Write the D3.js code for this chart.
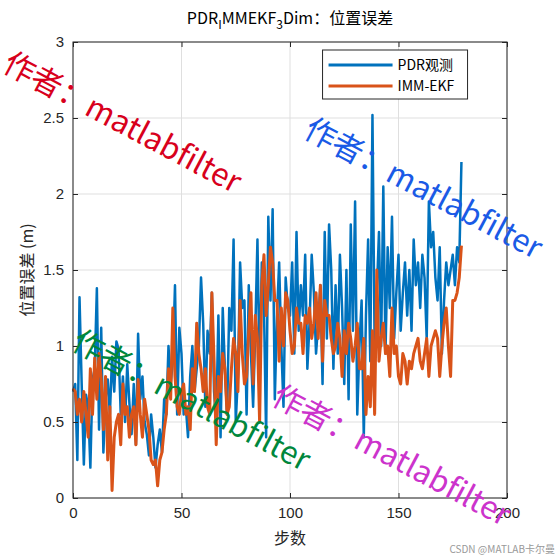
<!DOCTYPE html>
<html><head><meta charset="utf-8">
<script src="https://cdn.jsdelivr.net/npm/d3@7"></script>
<style>body{margin:0;background:#fff;} text{font-family:"Noto Sans CJK SC","Noto Sans",sans-serif;}</style>
</head><body><div id="graph"></div>
<script>
var pdr = [0.70,0.75,0.25,1.32,0.75,0.22,0.68,0.60,0.20,0.78,0.85,1.38,0.45,1.12,0.30,0.65,0.78,0.55,0.93,0.70,
  1.03,0.98,0.55,0.80,0.50,0.88,0.62,0.42,0.75,0.35,1.08,0.65,0.80,0.50,0.42,0.28,0.55,0.40,0.20,0.35,
  0.45,0.30,0.65,0.55,1.00,0.75,0.90,1.40,0.55,1.12,0.95,0.55,0.60,0.40,0.80,1.00,0.70,0.85,1.00,1.45,
  1.15,0.60,1.10,0.95,1.35,0.70,0.50,1.20,0.40,1.25,0.85,0.55,1.25,1.10,1.70,0.50,0.80,1.55,1.25,1.30,
  0.55,1.40,0.95,0.60,1.10,1.70,0.80,1.55,1.25,0.40,1.85,1.30,1.90,0.65,1.20,1.55,1.00,0.60,1.45,1.25,
  1.20,1.55,0.95,1.75,1.10,1.40,1.20,1.60,0.85,1.15,1.60,1.35,0.95,1.15,1.40,0.75,1.75,1.05,1.80,1.50,
  0.85,1.40,0.95,1.60,1.25,0.75,1.50,0.65,1.80,1.10,1.95,0.55,1.00,1.30,0.40,1.20,1.70,0.90,2.52,1.00,
  1.35,1.75,1.00,2.05,0.95,1.65,1.25,1.85,1.05,1.35,1.60,1.10,1.35,1.55,1.20,1.50,1.10,1.70,1.40,1.55,
  1.25,1.60,1.45,1.05,1.95,1.65,1.75,1.45,1.30,1.65,0.95,1.30,1.55,1.40,1.50,1.60,1.40,1.65,1.55,2.21];
var imm = [0.72,0.70,0.55,0.65,0.50,0.70,0.55,0.40,0.85,0.55,0.92,0.65,0.95,0.78,0.45,0.80,0.25,0.60,0.05,0.40,
  0.50,0.55,0.35,0.75,0.55,0.60,0.40,0.55,0.60,0.35,0.78,0.55,0.40,0.65,0.55,0.45,0.25,0.22,0.25,0.08,
  0.25,0.30,0.45,0.55,0.85,0.65,1.25,0.80,0.60,0.55,0.70,0.75,0.55,0.60,0.45,0.85,0.70,1.15,0.95,0.85,
  0.70,0.85,0.60,0.55,1.35,0.90,0.35,0.80,0.70,0.95,0.85,0.55,0.60,0.85,1.05,0.95,0.70,1.30,0.95,0.75,
  0.80,1.10,1.35,0.75,1.20,1.05,0.50,1.40,1.60,1.20,1.40,1.65,1.55,1.30,1.30,0.90,1.25,1.00,1.35,1.30,
  1.10,0.95,1.00,1.25,1.15,1.15,0.95,1.20,1.15,1.25,1.05,1.15,1.35,1.05,1.40,0.90,1.30,1.20,1.20,1.05,
  0.95,1.00,1.15,1.05,0.80,1.10,0.95,1.15,1.05,0.90,1.00,1.15,0.85,0.85,1.05,0.55,0.80,0.60,1.10,0.55,
  1.50,0.90,1.05,1.15,0.95,1.00,0.80,1.25,0.95,1.00,0.80,0.75,0.95,0.90,0.75,0.90,0.85,0.95,1.00,1.05,
  0.90,0.85,0.95,1.05,0.80,1.00,1.05,1.10,1.05,0.80,1.00,1.15,1.25,1.00,0.80,1.30,1.30,1.35,1.45,1.66];
var seriesNames = ["PDR观测", "IMM-EKF"];
var colors = ["#0072BD", "#D95319"];
var xTicks = [0, 50, 100, 150, 200];
var yTicks = [0, 0.5, 1, 1.5, 2, 2.5, 3];
var marks = [
  {text: "作者：matlabfilter", color: "#d8001c", x: 1, y: 70},
  {text: "作者：matlabfilter", color: "#1a5ae6", x: 302, y: 136},
  {text: "作者：matlabfilter", color: "#00873c", x: 70, y: 348},
  {text: "作者：matlabfilter", color: "#cc33cc", x: 270, y: 403}
];

var W = 560, H = 560;
var margin = {top: 42, right: 53, bottom: 62, left: 73};
var width = W - margin.left - margin.right, height = H - margin.top - margin.bottom;

var root = d3.select("#graph").append("svg").attr("width", W).attr("height", H);
var svg = root.append("g").attr("transform", `translate(${margin.left},${margin.top})`);

var x = d3.scaleLinear().domain([0, 200]).range([0, width]);
var y = d3.scaleLinear().domain([0, 3]).range([height, 0]);

// grid
svg.append("g").selectAll("line").data(xTicks).enter().append("line")
  .attr("x1", d => x(d)).attr("x2", d => x(d)).attr("y1", 0).attr("y2", height)
  .attr("stroke", "#dfdfdf");
svg.append("g").selectAll("line").data(yTicks).enter().append("line")
  .attr("y1", d => y(d)).attr("y2", d => y(d)).attr("x1", 0).attr("x2", width)
  .attr("stroke", "#dfdfdf");

// lines
var line = d3.line().x((d, i) => x(i)).y(d => y(d));
[pdr, imm].forEach((s, k) => {
  svg.append("path").datum(s).attr("d", line).attr("fill", "none")
    .attr("stroke", colors[k]).attr("stroke-width", k ? 3 : 2.5).attr("stroke-linejoin", "round");
});

// axes
function styleAxis(g) {
  g.select(".domain").remove();
  g.selectAll("line").attr("stroke", "#262626");
  g.selectAll("text").attr("fill", "#262626").style("font-size", "15px")
    .style("font-family", "'Liberation Sans',Arial,sans-serif");
}
svg.append("g").attr("transform", `translate(0,${height})`)
  .call(d3.axisBottom(x).tickValues(xTicks).tickSize(-5).tickPadding(9)).call(styleAxis);
svg.append("g")
  .call(d3.axisLeft(y).tickValues(yTicks).tickFormat(d3.format("~g")).tickSize(-5).tickPadding(9)).call(styleAxis);
svg.append("g")
  .call(d3.axisBottom(x).tickValues(xTicks).tickSize(5).tickFormat("")).call(styleAxis);
svg.append("g").attr("transform", `translate(${width},0)`)
  .call(d3.axisRight(y).tickValues(yTicks).tickSize(-5).tickFormat("")).call(styleAxis);
svg.append("rect").attr("width", width).attr("height", height)
  .attr("fill", "none").attr("stroke", "#262626").attr("stroke-width", 1);

// labels
svg.append("text").attr("x", width / 2).attr("y", height + 46).attr("text-anchor", "middle")
  .style("font-size", "16px").attr("fill", "#262626").text("步数");
svg.append("text").attr("transform", `translate(-40,${height / 2}) rotate(-90)`)
  .attr("text-anchor", "middle").style("font-size", "16px").attr("fill", "#262626").text("位置误差 (m)");
var title = svg.append("text").attr("x", width / 2).attr("y", -18).attr("text-anchor", "middle")
  .style("font-size", "16px").attr("fill", "#000");
title.append("tspan").text("PDR");
title.append("tspan").attr("dy", 5).style("font-size", "12px").text("I");
title.append("tspan").attr("dy", -5).text("MMEKF");
title.append("tspan").attr("dy", 5).style("font-size", "12px").text("3");
title.append("tspan").attr("dy", -5).text("Dim：位置误差");

// legend
var lg = svg.append("g").attr("transform", `translate(${x(115)},8)`);
lg.append("rect").attr("width", 145).attr("height", 49).attr("fill", "#fff").attr("stroke", "#262626");
seriesNames.forEach((n, k) => {
  var yy = 15 + k * 21;
  lg.append("line").attr("x1", 6).attr("x2", 70).attr("y1", yy).attr("y2", yy)
    .attr("stroke", colors[k]).attr("stroke-width", 3);
  lg.append("text").attr("x", 75).attr("y", yy + 5).style("font-size", "14px").attr("fill", "#000").text(n);
});

// watermarks
marks.forEach(m => {
  root.append("text").attr("transform", `translate(${m.x},${m.y}) rotate(28)`)
    .style("font-size", "31px").attr("fill", m.color).text(m.text);
});
root.append("text").attr("x", 555).attr("y", 553).attr("text-anchor", "end")
  .style("font-size", "10px").attr("fill", "#999").text("CSDN @MATLAB卡尔曼");
</script></body></html>
